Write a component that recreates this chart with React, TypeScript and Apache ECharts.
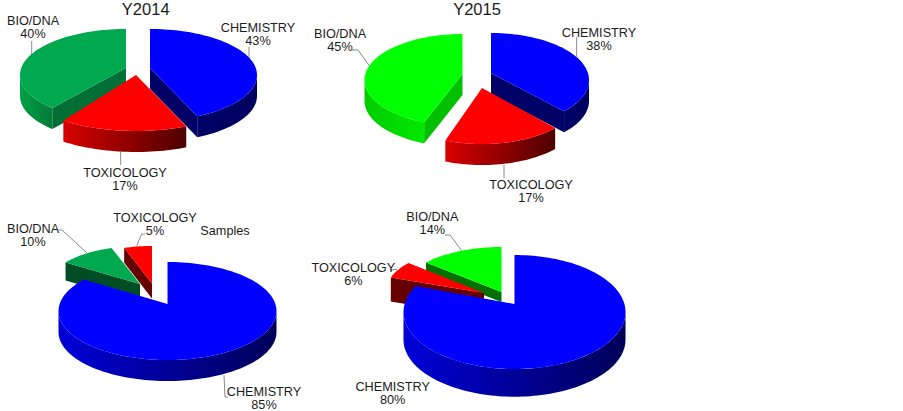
import React, { useEffect, useRef } from "react";
import * as echarts from "echarts";

const CHEM = "CHEMISTRY";
const TOX = "TOXICOLOGY";
const BIO = "BIO/DNA";

const titles = ["Y2014", "Y2015"];
const noteLabel = "Samples";

// clockwise from twelve o'clock
const ring2014A = [CHEM, TOX, BIO];
const values2014A = [43, 17, 40];
const ring2015A = [CHEM, TOX, BIO];
const values2015A = [38, 17, 45];
const ring2014B = [CHEM, BIO, TOX];
const values2014B = [85, 10, 5];
const ring2015B = [CHEM, TOX, BIO];
const values2015B = [80, 6, 14];

const FONT = '"Liberation Sans", Arial, sans-serif';

type Look = {
  top: string;
  wallL: string;
  wallR: string;
  face: string;
};
const blueDark: Look = { top: "#0000ff", wallL: "#000066", wallR: "#000060", face: "#000066" };
const blueShade: Look = { top: "#0000ff", wallL: "#0000d8", wallR: "#000058", face: "#000066" };
const redShade: Look = { top: "#ff0000", wallL: "#d80000", wallR: "#4e0000", face: "#640000" };
const seaGreen: Look = { top: "#00a84f", wallL: "#00a145", wallR: "#007a38", face: "#006f35" };
const seaGreenDark: Look = { top: "#00a84f", wallL: "#00a145", wallR: "#007a38", face: "#004d25" };
const limeGreen: Look = { top: "#00ff00", wallL: "#00cc00", wallR: "#00e800", face: "#00c000" };
const limeGreenDark: Look = { top: "#00ff00", wallL: "#00cc00", wallR: "#00e800", face: "#007000" };

type Slice = {
  cx: number; cy: number; rx: number; ry: number; apexUp: number; depth: number;
  da0?: number; da1?: number; look: Look;
  lx: number; ly: number; lead?: number[][];
};
type Pie = {
  ring: string[]; values: number[]; draw: string[];
  slices: Record<string, Slice>;
};

const pies: Pie[] = [
  {
    ring: ring2014A, values: values2014A, draw: [BIO, CHEM, TOX],
    slices: {
      [BIO]: { cx: 126, cy: 75, rx: 106, ry: 46, apexUp: 7, depth: 21, da0: 8, look: seaGreen, lx: 33, ly: 27, lead: [[31.7, 41], [31.7, 55]] },
      [CHEM]: { cx: 150, cy: 75, rx: 107, ry: 46, apexUp: 7, depth: 21, da1: -1, look: blueDark, lx: 258, ly: 34.5, lead: [[249, 47], [249, 60]] },
      [TOX]: { cx: 136, cy: 82, rx: 118, ry: 49, apexUp: 7, depth: 21, da1: 2, look: redShade, lx: 125, ly: 179, lead: [[120.7, 152], [120.7, 165]] },
    },
  },
  {
    ring: ring2015A, values: values2015A, draw: [BIO, CHEM, TOX],
    slices: {
      [BIO]: { cx: 462.5, cy: 80, rx: 98, ry: 46, apexUp: 6, depth: 21, da0: 5, look: limeGreen, lx: 340, ly: 40, lead: [[352, 50], [358, 50], [370, 66.7]] },
      [CHEM]: { cx: 491, cy: 80, rx: 98, ry: 47, apexUp: 7, depth: 21, da1: -5, look: blueDark, lx: 599, ly: 39.5, lead: [[576.7, 36.7], [576.7, 56.7]] },
      [TOX]: { cx: 482, cy: 94, rx: 100, ry: 50, apexUp: 6, depth: 21, da0: -3.8, da1: 3.5, look: redShade, lx: 531, ly: 191, lead: [[504, 165], [504, 178]] },
    },
  },
  {
    ring: ring2014B, values: values2014B, draw: [BIO, TOX, CHEM],
    slices: {
      [BIO]: { cx: 140, cy: 286, rx: 92, ry: 40, apexUp: 2, depth: 18, look: seaGreenDark, lx: 33, ly: 235, lead: [[59, 230], [62, 230], [87, 253]] },
      [TOX]: { cx: 152, cy: 284, rx: 90, ry: 38, apexUp: 0.6, depth: 15, look: redShade, lx: 155, ly: 224, lead: [[145, 234], [141.7, 234], [136.7, 245.7]] },
      [CHEM]: { cx: 167.5, cy: 311, rx: 109, ry: 49, apexUp: 7, depth: 21, da1: 4, look: blueShade, lx: 264, ly: 398, lead: [[224, 375], [225, 397], [228, 397]] },
    },
  },
  {
    ring: ring2015B, values: values2015B, draw: [BIO, TOX, CHEM],
    slices: {
      [BIO]: { cx: 501.5, cy: 290, rx: 98, ry: 43, apexUp: -2, depth: 10, look: limeGreenDark, lx: 432.3, ly: 223.5, lead: [[445, 235], [450, 235], [461.7, 250.7]] },
      [TOX]: { cx: 484, cy: 291, rx: 98, ry: 44, apexUp: -2, depth: 24, look: redShade, lx: 353.3, ly: 274, lead: [[390, 270], [397, 269.3]] },
      [CHEM]: { cx: 514.5, cy: 312, rx: 111, ry: 57, apexUp: 8, depth: 27.7, da1: 9, look: blueShade, lx: 392.7, ly: 393.7 },
    },
  },
];

const rad = (d: number) => (d * Math.PI) / 180;

function arcPoints(s: Slice, a0: number, a1: number, dy = 0): number[][] {
  const pts: number[][] = [];
  const n = Math.max(2, Math.ceil(Math.abs(a1 - a0) / 2));
  for (let i = 0; i <= n; i++) {
    const a = rad(a0 + ((a1 - a0) * i) / n);
    pts.push([s.cx + s.rx * Math.sin(a), s.cy - s.ry * Math.cos(a) + dy]);
  }
  return pts;
}

function sliceGroup(pie: Pie, name: string, value: number, start: number, end: number) {
  const s = pie.slices[name];
  const a0 = start + (s.da0 || 0);
  const a1 = end + (s.da1 || 0);
  const apex = [s.cx, s.cy - s.apexUp];
  const children: any[] = [];

  if (s.lead) {
    children.push({
      type: "polyline",
      shape: { points: s.lead },
      style: { stroke: "#8a8a8a", lineWidth: 1, fill: "none" },
    });
  }

  const w0 = Math.max(a0, 90);
  const w1 = Math.min(a1, 270);
  if (w1 > w0) {
    const topEdge = arcPoints(s, w0, w1);
    const bottomEdge = arcPoints(s, w0, w1, s.depth).reverse();
    children.push({
      type: "polygon",
      shape: { points: topEdge.concat(bottomEdge) },
      style: {
        fill: new echarts.graphic.LinearGradient(0, 0, 1, 0, [
          { offset: 0, color: s.look.wallL },
          { offset: 1, color: s.look.wallR },
        ]),
      },
    });
  }

  const radialFace = (a: number) => {
    const e = arcPoints(s, a, a + 1)[0];
    children.push({
      type: "polygon",
      shape: { points: [apex, e, [e[0], e[1] + s.depth], [apex[0], apex[1] + s.depth]] },
      style: { fill: s.look.face },
    });
  };
  if (a0 > 180 && a0 < 360) radialFace(a0);
  if (a1 > 0 && a1 < 180) radialFace(a1);

  children.push({
    type: "polygon",
    shape: { points: [apex, ...arcPoints(s, a0, a1)] },
    style: { fill: s.look.top },
  });

  children.push({
    type: "text",
    x: s.lx,
    y: s.ly,
    style: {
      text: `${name}\n${value}%`,
      fontFamily: FONT,
      fontSize: 12.7,
      lineHeight: 13,
      fill: "#1c1c1c",
      align: "center",
      verticalAlign: "middle",
    },
  });

  return { type: "group", children };
}

function pieSeries(pie: Pie) {
  const rows = pie.draw.map((name) => {
    const idx = pie.ring.indexOf(name);
    const before = pie.values.slice(0, idx).reduce((a, b) => a + b, 0);
    const total = pie.values.reduce((a, b) => a + b, 0);
    return {
      name,
      value: [pie.values[idx], (before / total) * 360, ((before + pie.values[idx]) / total) * 360],
    };
  });
  return {
    type: "custom",
    coordinateSystem: "none",
    silent: true,
    data: rows,
    renderItem: (params: any, api: any) =>
      sliceGroup(pie, rows[params.dataIndex].name, api.value(0), api.value(1), api.value(2)),
  };
}

export default function App() {
  const ref = useRef<HTMLDivElement>(null);
  useEffect(() => {
    document.body.style.margin = "0";
    const chart = echarts.init(ref.current!, null, { renderer: "svg" });
    const titleStyle = { fontFamily: FONT, fontSize: 16.5, fontWeight: "normal" as const, color: "#1c1c1c" };
    chart.setOption({
      animation: false,
      backgroundColor: "#ffffff",
      tooltip: { show: false },
      title: [
        { text: titles[0], left: 145.7, top: 0, padding: 0, textAlign: "center", textStyle: titleStyle },
        { text: titles[1], left: 477, top: 0, padding: 0, textAlign: "center", textStyle: titleStyle },
      ],
      graphic: [
        {
          type: "text",
          x: 225,
          y: 230.5,
          style: {
            text: noteLabel,
            fontFamily: FONT,
            fontSize: 12.7,
            fill: "#1c1c1c",
            align: "center",
            verticalAlign: "middle",
          },
        },
      ],
      series: pies.map(pieSeries),
    });
    return () => chart.dispose();
  }, []);
  return <div ref={ref} style={{ width: 903, height: 411 }} />;
}
